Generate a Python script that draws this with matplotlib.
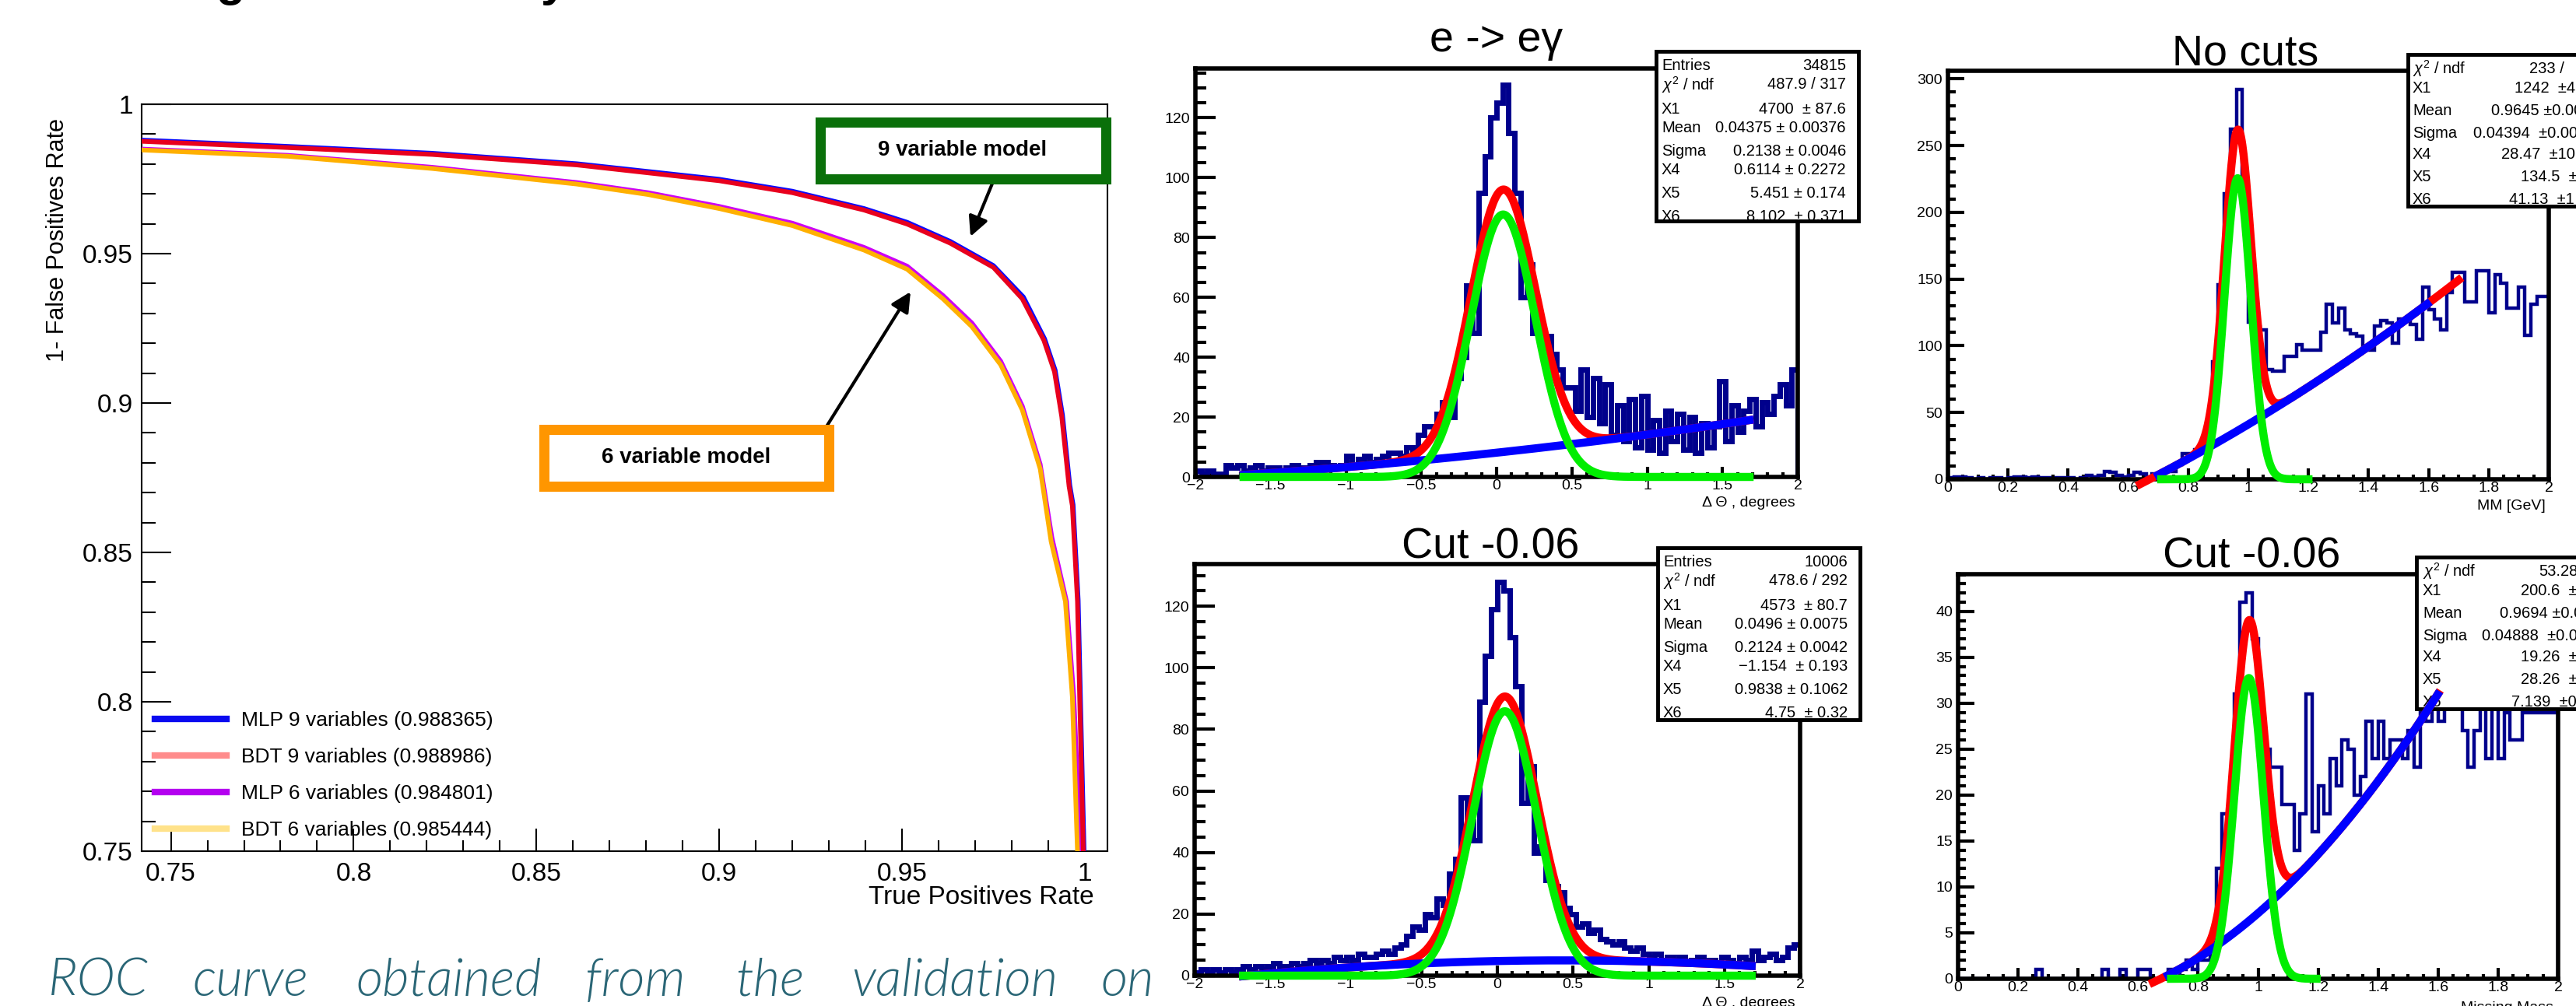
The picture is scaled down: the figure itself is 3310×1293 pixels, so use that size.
import numpy as np
import matplotlib
matplotlib.use("Agg")
import matplotlib.pyplot as plt
from matplotlib import font_manager
from matplotlib.patches import Rectangle
from matplotlib.lines import Line2D
from matplotlib.ticker import MultipleLocator

W, H = 3310, 1293

# ---------------- ROC curves ----------------
mlp9_x = [0.742, 0.782, 0.8215, 0.861, 0.900, 0.920, 0.9396, 0.9514, 0.9632, 0.975,
          0.9832, 0.9890, 0.9919, 0.9939, 0.9959, 0.9968, 0.9982, 0.9988, 0.9998]
mlp9_y = [0.9880, 0.9859, 0.9836, 0.9801, 0.9749, 0.9709, 0.9651, 0.9605, 0.9541, 0.9460,
          0.9355, 0.9215, 0.9110, 0.8960, 0.8725, 0.8660, 0.8340, 0.8020, 0.7500]
bdt9_x = [0.742, 0.782, 0.8215, 0.861, 0.900, 0.920, 0.9396, 0.9514, 0.9632, 0.975,
          0.9829, 0.9888, 0.9917, 0.9937, 0.9957, 0.9966, 0.9980, 0.9986, 0.9996]
bdt9_y = [0.9876, 0.9855, 0.9832, 0.9797, 0.9744, 0.9704, 0.9646, 0.9599, 0.9535, 0.9454,
          0.9349, 0.9210, 0.9105, 0.8954, 0.8721, 0.8656, 0.8336, 0.8016, 0.7500]
mlp6_x = [0.742, 0.782, 0.8215, 0.861, 0.8805, 0.900, 0.920, 0.9396, 0.9514, 0.9612,
          0.9691, 0.977, 0.9829, 0.9878, 0.9910, 0.9950, 0.9970, 0.9988]
mlp6_y = [0.9850, 0.9829, 0.9789, 0.9738, 0.9704, 0.9658, 0.9602, 0.9521, 0.9458, 0.9360,
          0.9268, 0.9140, 0.8990, 0.8795, 0.8550, 0.8336, 0.8016, 0.7500]
bdt6_x = [0.742, 0.782, 0.8215, 0.861, 0.8805, 0.900, 0.920, 0.9396, 0.9514, 0.9612,
          0.9691, 0.977, 0.9829, 0.9878, 0.9908, 0.9947, 0.9966, 0.9980]
bdt6_y = [0.9847, 0.9826, 0.9785, 0.9733, 0.9698, 0.9651, 0.9594, 0.9512, 0.9448, 0.9349,
          0.9256, 0.9128, 0.8977, 0.8780, 0.8536, 0.8336, 0.8016, 0.7500]
roc_labels = ["MLP 9 variables (0.988365)", "BDT 9 variables (0.988986)",
              "MLP 6 variables (0.984801)", "BDT 6 variables (0.985444)"]
roc_xticks = [0.75, 0.8, 0.85, 0.9, 0.95, 1.0]
roc_xticklabels = ["0.75", "0.8", "0.85", "0.9", "0.95", "1"]
roc_yticks = [0.75, 0.8, 0.85, 0.9, 0.95, 1.0]
roc_yticklabels = ["0.75", "0.8", "0.85", "0.9", "0.95", "1"]

# ---------------- Delta theta histograms (bins of 0.04 over [-2, 2]) ----------------
dtheta_all = [2, 1, 2, 1, 1, 4, 3, 4, 2, 3,
              4, 2, 3, 3, 2, 3, 4, 3, 3, 4,
              5, 5, 4, 3, 4, 7, 4, 6, 7, 5,
              6, 7, 8, 8, 7, 10, 9, 14, 17, 17,
              21, 25, 20, 33, 40, 64, 48, 95, 107, 120,
              125, 131, 115, 95, 60, 71, 48, 47, 47, 41,
              36, 30, 30, 22, 36, 20, 33, 18, 31, 14,
              24, 12, 26, 10, 27, 9, 19, 8, 22, 12,
              21, 9, 20, 8, 18, 10, 17, 32, 12, 24,
              15, 22, 26, 17, 25, 21, 27, 31, 24, 36]
dtheta_cut = [1, 2, 1, 2, 1, 2, 1, 2, 3, 2,
              3, 2, 3, 4, 3, 3, 4, 3, 4, 5,
              4, 5, 4, 6, 5, 6, 5, 7, 6, 6,
              7, 8, 7, 9, 10, 13, 16, 15, 20, 19,
              25, 23, 33, 38, 58, 50, 44, 89, 104, 119,
              128, 125, 110, 94, 56, 68, 40, 42, 31, 29,
              27, 22, 20, 16, 17, 14, 15, 12, 11, 10,
              11, 9, 8, 9, 7, 6, 7, 5, 6, 5,
              6, 4, 5, 6, 4, 5, 4, 6, 5, 4,
              6, 5, 8, 5, 6, 7, 5, 6, 9, 10]
dtheta_range = (-2.0, 2.0)

# ---------------- missing mass histograms (bins of 0.02 over [0, 2]) ----------------
mm_all = [1, 2, 2, 1, 0, 1, 0, 1, 1, 0,
          1, 2, 2, 1, 2, 1, 1, 0, 1, 1,
          1, 0, 1, 3, 2, 3, 6, 5, 3, 2,
          3, 5, 4, 2, 4, 3, 6, 6, 11, 19,
          19, 22, 25, 40, 88, 146, 214, 262, 292, 215,
          118, 114, 112, 82, 81, 81, 92, 92, 101, 97,
          97, 97, 110, 131, 117, 128, 112, 109, 107, 98,
          97, 115, 119, 117, 102, 120, 120, 116, 105, 144,
          127, 120, 112, 140, 155, 155, 133, 133, 156, 156,
          125, 153, 147, 128, 128, 144, 108, 131, 137, 137]
mm_cut = [0, 0, 0, 0, 0, 0, 0, 0, 0, 0,
          0, 0, 0, 1, 0, 0, 0, 0, 0, 0,
          0, 0, 0, 0, 1, 0, 0, 1, 0, 0,
          1, 1, 0, 0, 0, 1, 0, 1, 2, 1,
          2, 2, 4, 12, 18, 18, 31, 41, 42, 37,
          28, 25, 23, 23, 19, 19, 14, 18, 31, 16,
          21, 18, 24, 21, 26, 25, 20, 22, 28, 24,
          28, 24, 26, 26, 24, 27, 23, 29, 28, 30,
          28, 33, 31, 30, 27, 23, 27, 30, 24, 31,
          24, 29, 26, 26, 29, 29, 29, 29, 29, 29]
mm_range = (0.0, 2.0)

# ---------------- fit parameters from the stat boxes: X1, Mean, Sigma, X4, X5, X6 ----------------
fit_all_dtheta = [4700, 0.04375, 0.2138, 0.6114, 5.451, 8.102]
fit_cut_dtheta = [4573, 0.0496, 0.2124, -1.154, 0.9838, 4.75]
fit_all_mm = [1242, 0.9645, 0.04394, 28.47, 134.5, 41.13]
fit_cut_mm = [200.6, 0.9694, 0.04888, 19.26, 28.26, 7.139]

# ---------------- stat box texts ----------------
stat_all_dtheta_labels = ["Entries", r"$\chi^{2}$ / ndf", "X1", "Mean", "Sigma", "X4", "X5", "X6"]
stat_all_dtheta_values = ["34815", "487.9 / 317", "4700  \u00b1 87.6", "0.04375 \u00b1 0.00376",
                          "0.2138 \u00b1 0.0046", "0.6114 \u00b1 0.2272", "5.451 \u00b1 0.174",
                          "8.102  \u00b1 0.371"]
stat_cut_dtheta_labels = ["Entries", r"$\chi^{2}$ / ndf", "X1", "Mean", "Sigma", "X4", "X5", "X6"]
stat_cut_dtheta_values = ["10006", "478.6 / 292", "4573  \u00b1 80.7", "0.0496 \u00b1 0.0075",
                          "0.2124 \u00b1 0.0042", "\u22121.154  \u00b1 0.193", "0.9838 \u00b1 0.1062",
                          "4.75  \u00b1 0.32"]
stat_all_mm_labels = [r"$\chi^{2}$ / ndf", "X1", "Mean", "Sigma", "X4", "X5", "X6"]
stat_all_mm_values = ["233 /", "1242  \u00b14", "0.9645 \u00b10.00", "0.04394  \u00b10.001",
                      "28.47  \u00b110.", "134.5  \u00b1", "41.13  \u00b11"]
stat_cut_mm_labels = [r"$\chi^{2}$ / ndf", "X1", "Mean", "Sigma", "X4", "X5", "X6"]
stat_cut_mm_values = ["53.28", "200.6  \u00b1", "0.9694 \u00b10.0", "0.04888  \u00b10.00",
                      "19.26  \u00b1", "28.26  \u00b1", "7.139  \u00b10."]

dtheta_xticks = [-2, -1.5, -1, -0.5, 0, 0.5, 1, 1.5, 2]
dtheta_xticklabels = ["\u22122", "\u22121.5", "\u22121", "\u22120.5", "0", "0.5", "1", "1.5", "2"]
dtheta_yticks = [0, 20, 40, 60, 80, 100, 120]
mm_xticks = [0, 0.2, 0.4, 0.6, 0.8, 1.0, 1.2, 1.4, 1.6, 1.8, 2.0]
mm_xticklabels = ["0", "0.2", "0.4", "0.6", "0.8", "1", "1.2", "1.4", "1.6", "1.8", "2"]
mm_all_yticks = [0, 50, 100, 150, 200, 250, 300]
mm_cut_yticks = [0, 5, 10, 15, 20, 25, 30, 35, 40]

caption_words = ["ROC", "curve", "obtained", "from", "the", "validation", "on"]

# ---------------- fonts ----------------
plt.rcParams["font.family"] = ["Liberation Sans", "DejaVu Sans"]
plt.rcParams["mathtext.fontset"] = "custom"
plt.rcParams["mathtext.rm"] = "Liberation Sans"
plt.rcParams["mathtext.it"] = "Liberation Sans:italic"

# pick an installed family that really has an italic face for the caption
italic_faces = {}
for f in font_manager.fontManager.ttflist:
    if f.style in ("italic", "oblique"):
        italic_faces.setdefault(f.name, []).append(f.weight)
caption_family, caption_weight = "DejaVu Sans", "normal"
for fam in ["Lato", "Open Sans", "Noto Sans", "Roboto", "Liberation Sans"]:
    if fam in italic_faces:
        caption_family = fam
        ws = [w if isinstance(w, int) else 400 for w in italic_faces[fam]]
        caption_weight = 300 if 300 in ws else "normal"
        break


def axes_rect(left, top, right, bottom):
    return [left / W, 1 - bottom / H, (right - left) / W, (bottom - top) / H]


fig = plt.figure(figsize=(W / 100, H / 100), dpi=100)

# ======================= ROC panel =======================
ax = fig.add_axes(axes_rect(182, 134, 1423, 1094))
ax.plot(mlp9_x, mlp9_y, color="#0a0aff", lw=4.3, zorder=3, solid_joinstyle="round")
ax.plot(bdt9_x, bdt9_y, color="#e8001e", lw=4.3, zorder=4, solid_joinstyle="round")
ax.plot(mlp6_x, mlp6_y, color="#cc00f5", lw=4.3, zorder=3, solid_joinstyle="round")
ax.plot(bdt6_x, bdt6_y, color="#ffb000", lw=4.3, zorder=4, solid_joinstyle="round")
ax.set_xlim(0.742, 1.0062)
ax.set_ylim(0.75, 1.0)
ax.set_xticks(roc_xticks, roc_xticklabels)
ax.set_yticks(roc_yticks, roc_yticklabels)
ax.xaxis.set_minor_locator(MultipleLocator(0.01))
ax.yaxis.set_minor_locator(MultipleLocator(0.01))
ax.tick_params(which="both", direction="in", top=False, right=False, width=1.5, labelsize=24)
ax.tick_params(axis="y", which="major", length=27, pad=8)
ax.tick_params(axis="y", which="minor", length=13)
ax.tick_params(axis="x", which="major", length=21, pad=10)
ax.tick_params(axis="x", which="minor", length=10)
for s in ax.spines.values():
    s.set_linewidth(1.5)
ax.set_xlabel("True Positives Rate", fontsize=24, ha="right")
ax.xaxis.set_label_coords((1406 - 182) / 1241, -(1138 - 1094) / 960)
ax.set_ylabel("1- False Positives Rate", fontsize=22, loc="top")
ax.yaxis.set_label_coords((89 - 182) / 1241, (1094 - 152) / 960)

legend_colors = ["#0a0af0", "#ff8c8c", "#b400f0", "#ffe28a"]
handles = [Line2D([], [], color=c, lw=6) for c in legend_colors]
ax.legend(handles, roc_labels, loc="upper left", bbox_to_anchor=(199 / W, 1 - 914 / H),
          bbox_transform=fig.transFigure, frameon=False, fontsize=19, handlelength=3.5,
          handletextpad=0.7, labelspacing=0.87, borderpad=0, borderaxespad=0)

# annotation boxes and arrows
for (l, t, r, b), col, txt in [((1047, 150, 1427, 236), "#0a700a", "9 variable model"),
                               ((692, 545, 1071, 631), "#ff9600", "6 variable model")]:
    inset = 6.5
    fig.add_artist(Rectangle(((l + inset) / W, 1 - (b - inset) / H),
                             (r - l - 2 * inset) / W, (b - t - 2 * inset) / H,
                             transform=fig.transFigure, facecolor="white", edgecolor=col,
                             lw=9.4, zorder=10))
    fig.text((l + r) / 2 / W, 1 - (t + b) / 2 / H, txt, ha="center", va="center",
             fontsize=20, fontweight="bold", zorder=11)

for head, tail in [((1247, 304), (1275, 236)), ((1170, 375), (1059, 553))]:
    ax.annotate("", xy=(head[0], H - head[1]), xytext=(tail[0], H - tail[1]),
                xycoords="figure pixels", textcoords="figure pixels",
                arrowprops=dict(arrowstyle="-|>", color="black", lw=3, mutation_scale=38,
                                shrinkA=0, shrinkB=0), zorder=9)

# caption and cut-off title fragments
for word, x in zip(caption_words, [62, 247, 457, 752, 945, 1094, 1414]):
    fig.text(x / W, 1 - 1280 / H, word, family=[caption_family, "DejaVu Sans"], style="italic",
             weight=caption_weight, fontsize=48, color="#2a6676", va="baseline", ha="left")
fig.text(296 / W, 1 + 6 / H, "g", ha="center", va="baseline", fontsize=44, fontweight="bold")
fig.text(712 / W, 1 + 6 / H, "y", ha="center", va="baseline", fontsize=44, fontweight="bold")


# ======================= fit panels =======================
def gauss(x, p, norm_w):
    return p[0] * norm_w / (np.sqrt(2 * np.pi) * p[2]) * np.exp(-0.5 * ((x - p[1]) / p[2]) ** 2)


def background(x, p, shift):
    u = x - shift
    return p[5] + p[4] * u + p[3] * u * u


def fit_panel(frame, xr, ymax, counts, hist_lw, fit, norm_w, shift,
              red_r, blue_r, green_r, xticks, xticklabels, xminor, yticks, yminor,
              ylen, xlen, box, labels, values, label_x, value_x, value_right, rows):
    L, T, R, B = frame
    a = fig.add_axes(axes_rect(L, T, R, B))
    edges = np.linspace(xr[0], xr[1], len(counts) + 1)
    a.stairs(counts, edges, color="#00008c", lw=hist_lw, zorder=2)
    xs = np.linspace(red_r[0], red_r[1], 500)
    a.plot(xs, gauss(xs, fit, norm_w) + background(xs, fit, shift), color="#ff0000",
           lw=7.5, zorder=7, clip_on=False)
    xs = np.linspace(blue_r[0], blue_r[1], 500)
    a.plot(xs, background(xs, fit, shift), color="#0000ff", lw=7.5, zorder=8, clip_on=False)
    xs = np.linspace(green_r[0], green_r[1], 500)
    a.plot(xs, gauss(xs, fit, norm_w), color="#00ee00", lw=7.5, zorder=9, clip_on=False)
    a.set_xlim(*xr)
    a.set_ylim(0, ymax)
    a.set_xticks(xticks, xticklabels)
    a.set_yticks(yticks, [str(v) for v in yticks])
    a.xaxis.set_minor_locator(MultipleLocator(xminor))
    a.yaxis.set_minor_locator(MultipleLocator(yminor))
    a.tick_params(which="both", direction="in", top=False, right=False, width=3, labelsize=14)
    a.tick_params(axis="y", which="major", length=ylen[0], pad=5)
    a.tick_params(axis="y", which="minor", length=ylen[1])
    a.tick_params(axis="x", which="major", length=xlen[0], pad=2)
    a.tick_params(axis="x", which="minor", length=xlen[1])
    for s in a.spines.values():
        s.set_linewidth(4)

    def axx(px):
        return (px - L) / (R - L)

    def axy(py):
        return (B - py) / (B - T)

    bl, bt, br, bb = box
    ins = 2.4
    rect = Rectangle((axx(bl + ins), axy(bb - ins)), axx(br - ins) - axx(bl + ins),
                     axy(bt + ins) - axy(bb - ins), transform=a.transAxes,
                     facecolor="white", edgecolor="black", lw=3.5, zorder=5, clip_on=False)
    a.add_patch(rect)
    for i, (lab, val, ry) in enumerate(zip(labels, values, rows)):
        t1 = a.text(axx(label_x), axy(ry), lab, transform=a.transAxes, ha="left",
                    va="center", fontsize=14.5, zorder=6, clip_on=True)
        t1.set_clip_path(rect)
        vx = value_x[i] if isinstance(value_x, list) else value_x
        t2 = a.text(axx(vx), axy(ry), val, transform=a.transAxes,
                    ha="right" if value_right else "left", va="center", fontsize=14.5,
                    zorder=6, clip_on=True)
        t2.set_clip_path(rect)
    return a


rows_dt = [21, 45, 76, 100, 130, 154, 184, 214]
rows_mm = [20.5, 45.5, 74.5, 103.5, 130.5, 159.5, 189]

fit_panel((1536, 88, 2310, 613), dtheta_range, 136.5, dtheta_all, 5, fit_all_dtheta, 0.01, 0.0,
          (-1.68, 1.68), (-1.68, 1.68), (-1.68, 1.68), dtheta_xticks, dtheta_xticklabels, 0.1,
          dtheta_yticks, 5, (19, 10), (9.5, 4.5), (2126, 64, 2390, 286),
          stat_all_dtheta_labels, stat_all_dtheta_values, 2135, 2372, True,
          [64 + r for r in rows_dt])
fit_panel((1535, 725, 2313, 1254), dtheta_range, 133.7, dtheta_cut, 5, fit_cut_dtheta, 0.01, 0.0,
          (-1.68, 1.68), (-1.68, 1.68), (-1.68, 1.68), dtheta_xticks, dtheta_xticklabels, 0.1,
          dtheta_yticks, 5, (19, 10), (9.5, 4.5), (2128, 702, 2392, 927),
          stat_cut_dtheta_labels, stat_cut_dtheta_values, 2137, 2374, True,
          [702 + r for r in rows_dt])
fit_panel((2503, 91, 3275, 616), mm_range, 306, mm_all, 3.2, fit_all_mm, 0.02, 1.0,
          (0.64, 1.70), (0.70, 1.595), (0.71, 1.20), mm_xticks, mm_xticklabels, 0.05,
          mm_all_yticks, 10, (15, 7.5), (10, 4.5), (3092, 68, 3420, 267),
          stat_all_mm_labels, stat_all_mm_values, 3100, [3250, 3231, 3201, 3178, 3214, 3239, 3224],
          False, [68 + r for r in rows_mm])
fit_panel((2516, 738, 3287, 1258), mm_range, 44.05, mm_cut, 3.2, fit_cut_mm, 0.02, 1.0,
          (0.65, 1.60), (0.70, 1.598), (0.71, 1.195), mm_xticks, mm_xticklabels, 0.05,
          mm_cut_yticks, 1, (15, 7.5), (10, 4.5), (3103, 714, 3420, 913),
          stat_cut_mm_labels, stat_cut_mm_values, 3113, [3262, 3239, 3212, 3189, 3239, 3239, 3227],
          False, [714 + r for r in rows_mm])

# panel titles and axis titles
for txt, x, base in [("e -> e\u03b3", 1923, 66), ("Cut -0.06", 1915, 717),
                     ("No cuts", 2885, 83), ("Cut -0.06", 2893, 729)]:
    fig.text(x / W, 1 - base / H, txt, ha="center", va="baseline", fontsize=40)
for txt, x, top in [("\u0394 \u0398 , degrees", 2307, 638), ("\u0394 \u0398 , degrees", 2307, 1281),
                    ("MM [GeV]", 3271, 642), ("Missing Mass", 3281, 1287)]:
    fig.text(x / W, 1 - top / H, txt, ha="right", va="top", fontsize=14)

fig.savefig("out.png", dpi=100)
